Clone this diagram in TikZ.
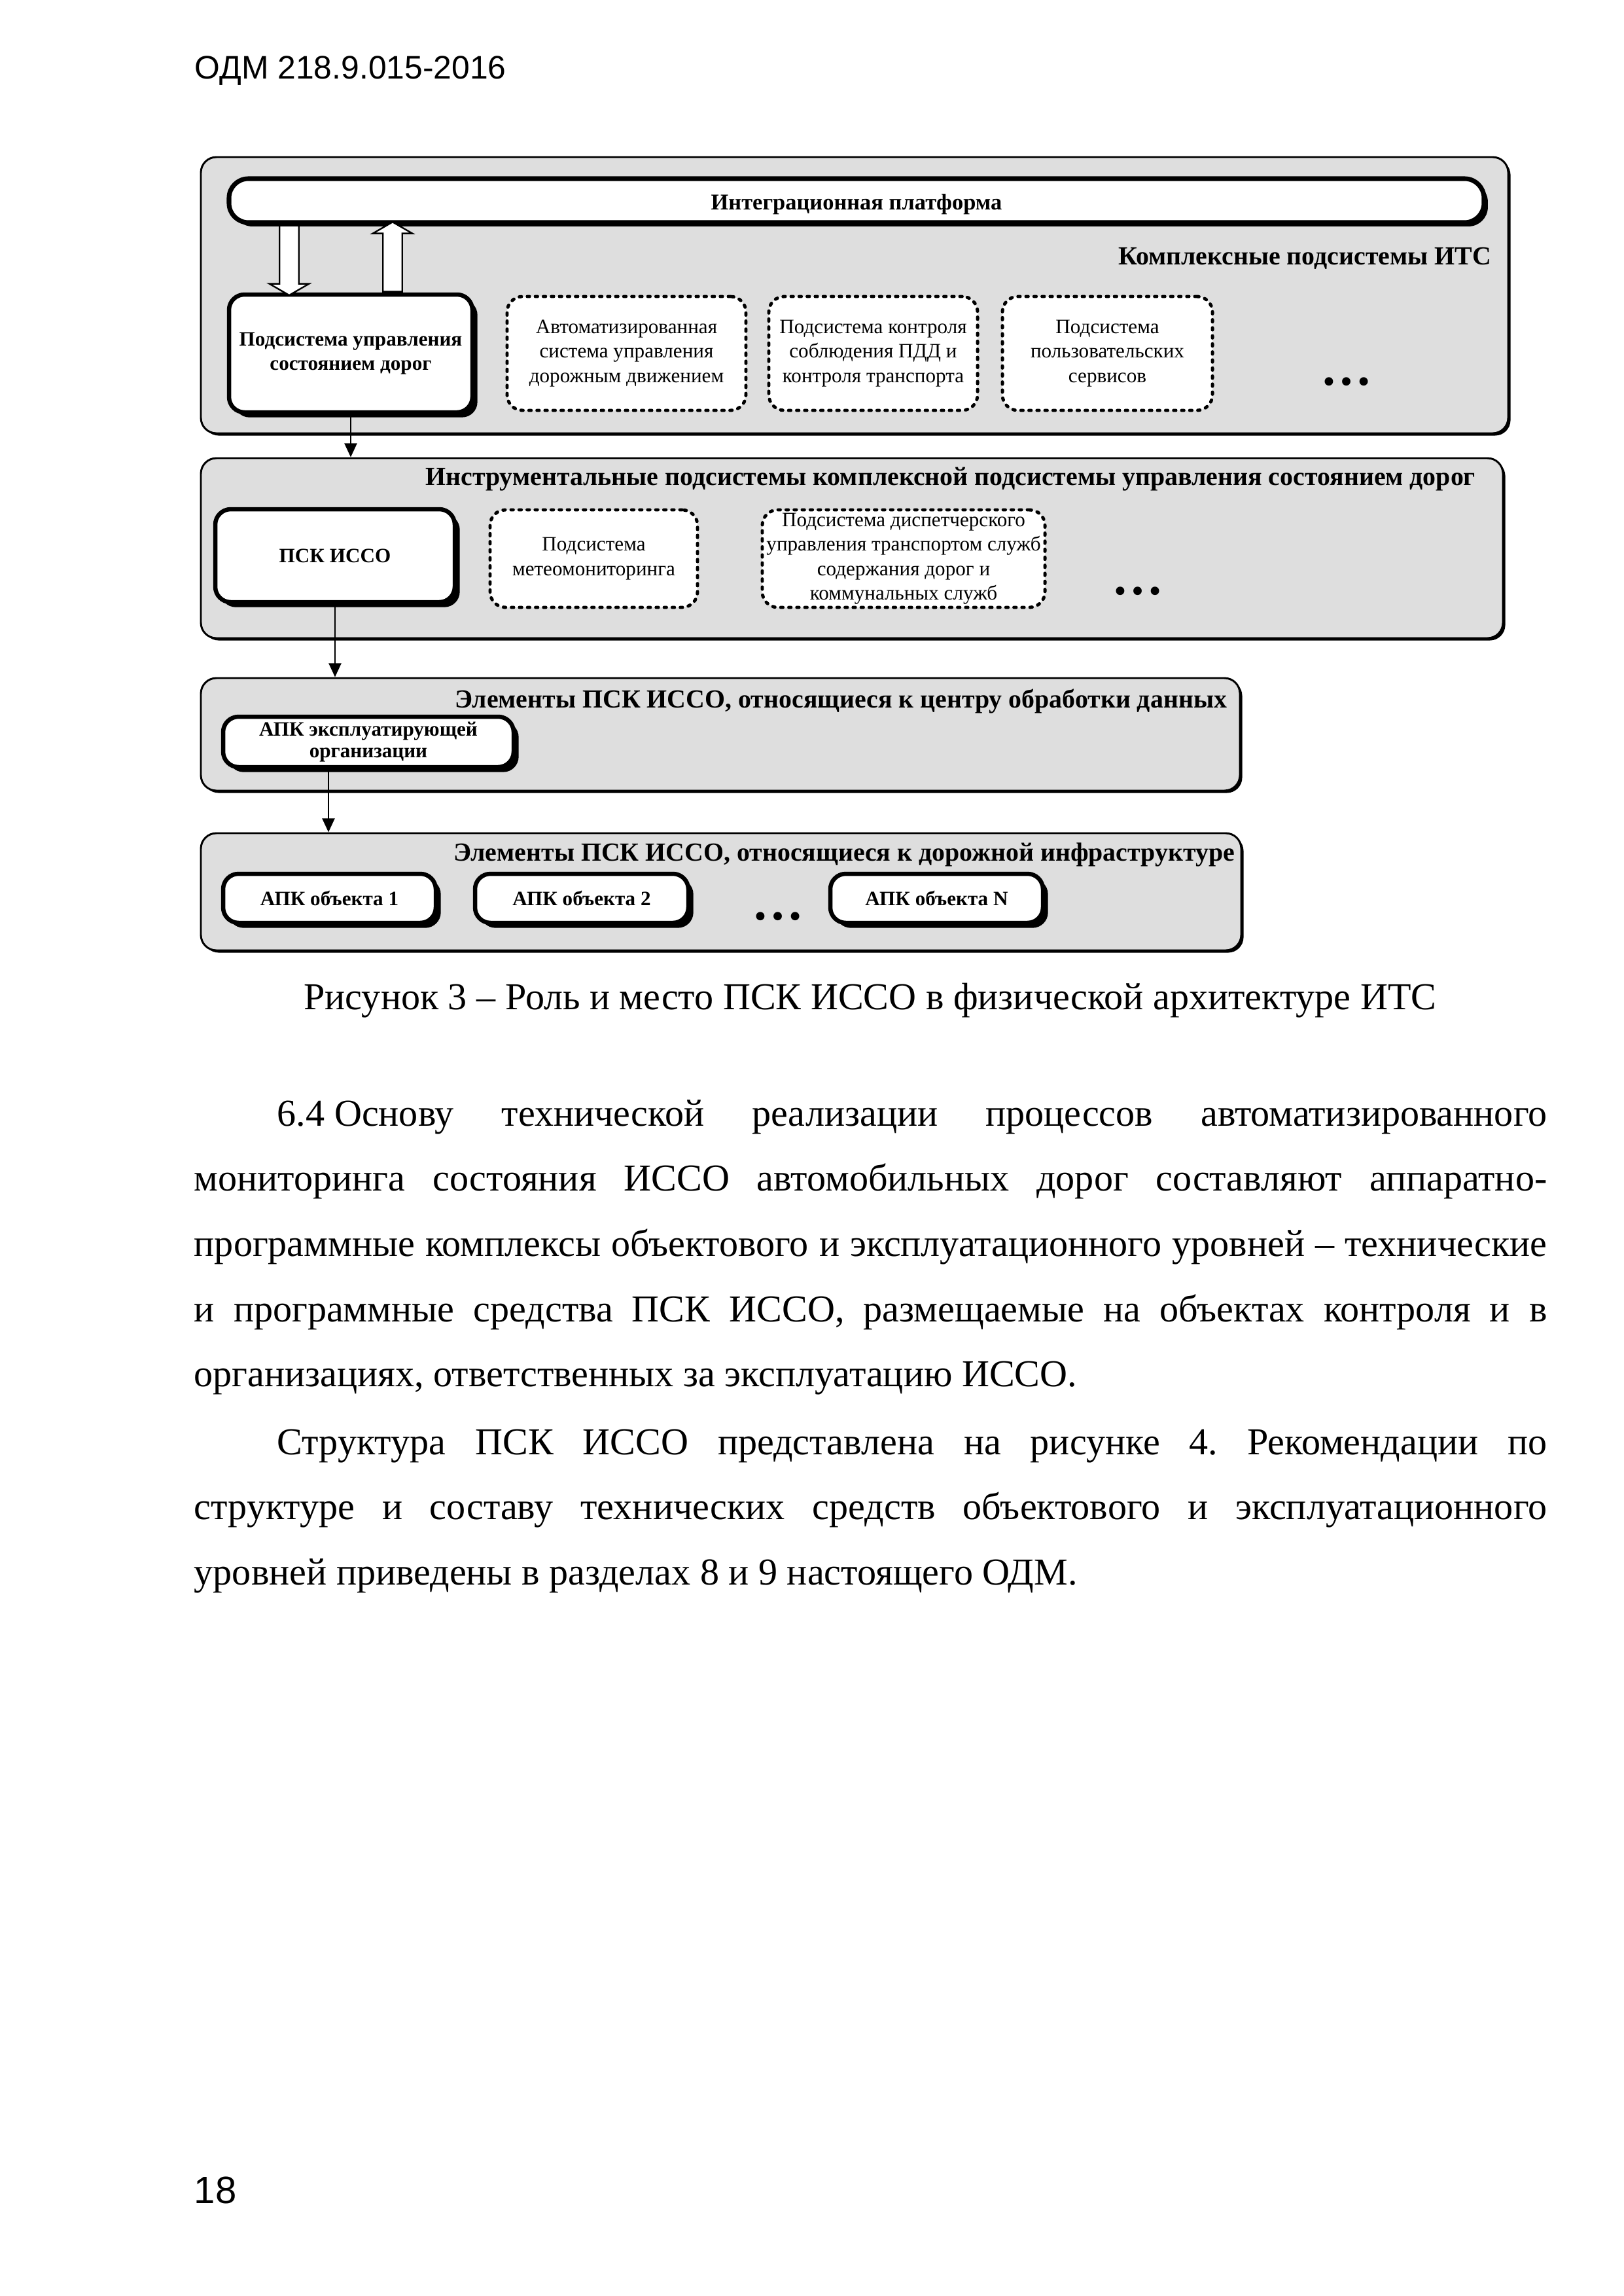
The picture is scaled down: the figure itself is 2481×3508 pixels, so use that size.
\documentclass[tikz,border=0pt]{standalone}
\usepackage{fontspec}
\setmainfont{Liberation Serif}
\newfontfamily\headfont{Liberation Sans}
\usetikzlibrary{shapes.arrows, shadows, arrows.meta}

\newcommand{\pxu}{0.08464mm}

\tikzset{
    boxsize/.style 2 args={minimum width=#1*\pxu, minimum height=#2*\pxu},
    grpbox/.style={draw, line width=0.25mm, rounded corners=2mm, fill=black!13, inner sep=0pt,
        drop shadow={shadow xshift=0.3mm, shadow yshift=-0.3mm, fill=black, opacity=1}},
    barbox/.style={draw, line width=0.6mm, rounded corners=2.5mm, fill=white, inner sep=0pt,
        font=\bfseries\fontsize{8.3}{10}\selectfont,
        drop shadow={shadow xshift=0.5mm, shadow yshift=-0.5mm, fill=black, opacity=1}},
    mainbox/.style={draw, line width=0.55mm, rounded corners=2mm, fill=white, inner sep=0pt,
        align=center, font=\bfseries\fontsize{7.5}{9}\selectfont,
        drop shadow={shadow xshift=0.65mm, shadow yshift=-0.65mm, fill=black, opacity=1}},
    subbox/.style={draw, line width=0.42mm, line cap=round, dash pattern=on 0.28mm off 0.76mm,
        rounded corners=2mm, fill=white, inner sep=0pt, align=center,
        font=\fontsize{7.5}{9}\selectfont},
    grptitle/.style={anchor=base east, inner sep=0pt, font=\bfseries\fontsize{9.6}{12}\selectfont},
    etc/.style={inner sep=0pt, font=\bfseries\fontsize{19}{19}\selectfont},
    link/.style={line width=0.25mm, -{Triangle[length=1.8mm, width=1.6mm]}},
    hollow/.style={single arrow, draw, line width=0.2mm, fill=white, inner xsep=0pt, inner ysep=1.15mm,
        minimum height=9mm, single arrow head extend=1.3mm, single arrow tip angle=120},
    pagetext/.style={inner sep=0pt, font=\fontsize{14}{24}\selectfont}
}

\begin{document}
\begin{tikzpicture}[x=0.08464mm, y=-0.08464mm]
    \path[use as bounding box, fill=white] (0,0) rectangle (2481,3508);

    % header
    \node[pagetext, anchor=base west, font=\headfont\fontsize{12}{14}\selectfont] (head) at (297,120) {ОДМ 218.9.015-2016};

    % group boxes
    \node[grpbox, boxsize={1998}{422}] (kompl) at (1306,451) {};
    \node[grpbox, boxsize={1990}{275}] (instr) at (1302,837.5) {};
    \node[grpbox, boxsize={1588}{172}] (obr) at (1101,1122) {};
    \node[grpbox, boxsize={1590}{179}] (infra) at (1102,1362.5) {};

    \node[grptitle] (tkompl) at (2280,404) {Комплексные подсистемы ИТС};
    \node[grptitle] (tinstr) at (2256,741) {Инструментальные подсистемы комплексной подсистемы управления состоянием дорог};
    \node[grptitle] (tobr) at (1876,1081) {Элементы ПСК ИССО, относящиеся к центру обработки данных};
    \node[grptitle] (tinfra) at (1888,1315) {Элементы ПСК ИССО, относящиеся к дорожной инфраструктуре};

    % complex subsystems
    \node[barbox, boxsize={1918}{67}, text height=3.2mm, text depth=0.8mm] (integ) at (1309,306.5) {Интеграционная платформа};
    \node[mainbox, boxsize={372}{180}] (upr) at (536,540) {Подсистема управления\\состоянием дорог};
    \node[subbox, boxsize={365}{174}] (avt) at (957.5,540) {Автоматизированная\\система управления\\дорожным движением};
    \node[subbox, boxsize={319}{174}] (kontr) at (1334.5,540) {Подсистема контроля\\соблюдения ПДД и\\контроля транспорта};
    \node[subbox, boxsize={321}{174}] (polz) at (1692.5,540) {Подсистема\\пользовательских\\сервисов};
    \node[etc] (etc1) at (2058,583) {…};

    \coordinate (dnx) at (442,0);
    \coordinate (upx) at (600,0);
    \node[hollow, rotate=-90, anchor=tail] (dnarr) at (integ.south -| dnx) {};
    \node[hollow, rotate=90, anchor=tail] (uparr) at (upr.north -| upx) {};

    % instrumental subsystems
    \node[mainbox, boxsize={366}{142}] (psk) at (512,849) {ПСК ИССО};
    \node[subbox, boxsize={317}{149}] (meteo) at (907.5,853.5) {Подсистема\\метеомониторинга};
    \node[subbox, boxsize={432}{149}] (disp) at (1381,853.5) {Подсистема диспетчерского\\управления транспортом служб\\содержания дорог и\\коммунальных служб};
    \node[etc] (etc2) at (1739,903) {…};

    % data centre
    \node[mainbox, boxsize={444}{77}, font=\bfseries\fontsize{7.5}{8}\selectfont] (apk) at (563,1133.5) {АПК эксплуатирующей\\организации};

    % road infrastructure
    \node[mainbox, boxsize={325}{75}] (obj1) at (503.5,1372.5) {АПК объекта 1};
    \node[mainbox, boxsize={326}{75}] (obj2) at (889,1372.5) {АПК объекта 2};
    \node[mainbox, boxsize={325}{75}] (objn) at (1431.5,1372.5) {АПК объекта N};
    \node[etc] (etc3) at (1189,1400) {…};

    % links
    \coordinate (apkx) at (502,0);
    \draw[link] (upr.south) -- (upr.south |- instr.north);
    \draw[link] (psk.south) -- (psk.south |- obr.north);
    \draw[link] (apk.south -| apkx) -- (apkx |- infra.north);

    % caption and text
    \node[pagetext, anchor=base, font=\fontsize{14}{16}\selectfont] (capt) at (1330,1542) {Рисунок 3 – Роль и место ПСК ИССО в физической архитектуре ИТС};

    \node[pagetext, anchor=base west, text width=175mm, align=justify] (par1) at (296,1720) {\frenchspacing\tolerance=9999\hspace*{10.75mm}6.4\hspace{0.25em}Основу технической реализации процессов автоматизированного\linebreak
    мониторинга состояния ИССО автомобильных дорог составляют аппаратно-\linebreak{}программные комплексы объектового и эксплуатационного уровней – технические\linebreak
    и программные средства ПСК ИССО, размещаемые на объектах контроля и в\linebreak
    организациях, ответственных за эксплуатацию ИССО.};

    \node[pagetext, anchor=base west, text width=175mm, align=justify] (par2) at (296,2222) {\frenchspacing\tolerance=9999\hspace*{10.75mm}Структура ПСК ИССО представлена на рисунке 4. Рекомендации по\linebreak
    структуре и составу технических средств объектового и эксплуатационного\linebreak
    уровней приведены  в разделах 8 и 9 настоящего ОДМ.};

    \node[pagetext, anchor=base west, font=\headfont\fontsize{14}{16}\selectfont] (pnum) at (296,3366) {18};
\end{tikzpicture}
\end{document}
